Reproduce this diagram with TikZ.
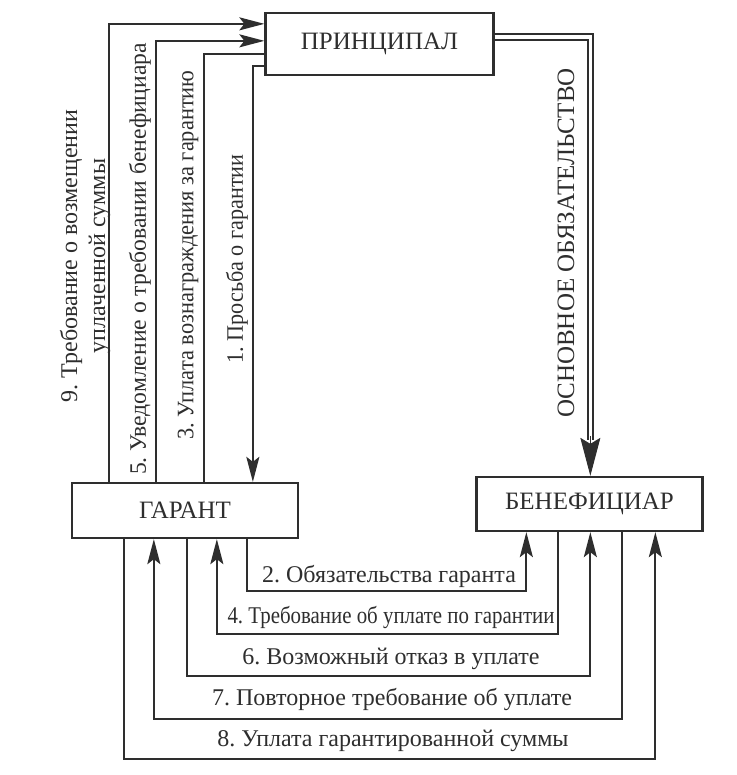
\documentclass[tikz,border=0pt]{standalone}
\usepackage{fontspec}
\usepackage{graphicx}
\setmainfont{Liberation Serif}
\frenchspacing
\usetikzlibrary{arrows.meta,calc}
\definecolor{ink}{HTML}{2E2E2E}
\begin{document}
\begin{tikzpicture}[x=1pt,y=-1pt,
  box/.style={draw=ink,line width=2.3pt,rectangle,inner sep=0pt,font=\fontsize{25}{29}\selectfont,text=ink},
  conn/.style={draw=ink,line width=2.1pt},
  arr/.style={conn,-{Stealth[length=25pt,width=13pt,inset=5pt]}},
  lbl/.style={text=ink,font=\fontsize{24}{28}\selectfont,inner sep=0pt},
  vlbl/.style={lbl,rotate=90,font=\fontsize{23.6}{28}\selectfont}]
\useasboundingbox[fill=white] (0,0) rectangle (736,775);
% boxes
\node[box,minimum width=228pt,minimum height=62pt] (prin) at (379.5,44) {ПРИНЦИПАЛ};
\node[box,minimum width=226pt,minimum height=55pt] (gar) at (185,510.5) {ГАРАНТ};
\node[box,minimum width=226pt,minimum height=54pt] (ben) at (589.5,504) {БЕНЕФИЦИАР};
% top connectors
\draw[arr] ($(gar.north west)+(38,0)$) |- ($(prin.north west)+(0,12)$);
\draw[arr] ($(gar.north west)+(85,0)$) |- ($(prin.north west)+(0,29)$);
\draw[conn] ($(gar.north west)+(133,0)$) |- ($(prin.north west)+(0,42)$);
\draw[arr] ($(prin.north west)+(0,54)$) -| ($(gar.north west)+(182,0)$);
% main obligation (double line)
\draw[draw=ink,line width=2pt,double=white,double distance=3.5pt,shorten >=36pt]
  ($(prin.north east)+(0,25)$) -| ($(ben.north west)+(115,0)$);
\draw[draw=ink,line width=1pt,-{Stealth[length=38pt,width=20pt,inset=6pt]}]
  ($(ben.north west)+(115,-40)$) -- ($(ben.north west)+(115,0)$);
% bottom connectors
\draw[arr] ($(gar.south west)+(176,0)$) -- ++(0,52) -| ($(ben.south west)+(51,0)$);
\draw[arr] ($(ben.south west)+(83,0)$) -- ++(0,102) -| ($(gar.south west)+(146,0)$);
\draw[arr] ($(gar.south west)+(116,0)$) -- ++(0,137) -| ($(ben.south west)+(115,0)$);
\draw[arr] ($(ben.south west)+(147,0)$) -- ++(0,187) -| ($(gar.south west)+(83,0)$);
\draw[arr] ($(gar.south west)+(53,0)$) -- ++(0,220) -| ($(ben.south west)+(180,0)$);
% labels
\node[vlbl,align=center,font=\fontsize{24}{28}\selectfont] (l9) at (85,256) {9. Требование о возмещении\\уплаченной суммы};
\node[vlbl] (l5) at (140,259) {5. Уведомление о требовании бенефициара};
\node[vlbl] (l3) at (188,255) {\scalebox{0.95}[1]{3. Уплата вознаграждения за гарантию}};
\node[vlbl] (l1) at (237,259) {\scalebox{0.94}[1]{1. Просьба о гарантии}};
\node[vlbl,font=\fontsize{25}{29}\selectfont] (lo) at (566,243) {ОСНОВНОЕ ОБЯЗАТЕЛЬСТВО};
\node[lbl] (l2) at (389,576) {2. Обязательства гаранта};
\node[lbl] (l4) at (391,617) {\scalebox{0.87}[1]{4. Требование об уплате по гарантии}};
\node[lbl] (l6) at (391,659) {6. Возможный отказ в уплате};
\node[lbl] (l7) at (392,699) {7. Повторное требование об уплате};
\node[lbl] (l8) at (393,741) {8. Уплата гарантированной суммы};
\end{tikzpicture}
\end{document}
